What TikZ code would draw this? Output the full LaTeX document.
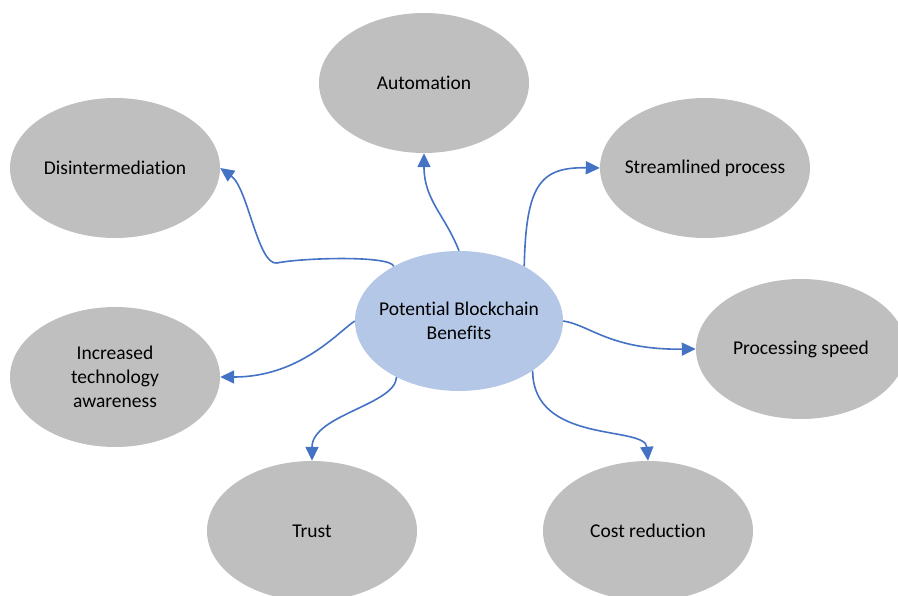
\documentclass[tikz,border=0pt]{standalone}
\usepackage{fontspec}
\setmainfont{Carlito}[Ligatures=NoCommon]
\usetikzlibrary{shapes.geometric,arrows.meta}
\definecolor{bubblegray}{RGB}{191,191,191}
\definecolor{hubblue}{RGB}{180,199,231}
\definecolor{linkblue}{RGB}{68,114,196}

\begin{document}
\begin{tikzpicture}[x=1pt,y=-1pt,
    bubble/.style={ellipse,fill=bubblegray,minimum width=210pt,minimum height=140pt,
        inner xsep=-12pt,inner ysep=0pt,align=center,font=\fontsize{19.5}{24}\selectfont},
    hub/.style={bubble,fill=hubblue,minimum width=208pt},
    link/.style={draw=linkblue,line width=1.6pt,-{Triangle[length=14pt,width=13pt]}}]
    \clip (0,0) rectangle (898,596);
    \node[hub] (hub) at (459,321) {Potential Blockchain\\Benefits};
    \foreach \name/\x/\y/\txt in {auto/424/83/Automation,
        dis/115/168/Disintermediation,
        str/705/168/Streamlined process,
        proc/801/349/Processing speed,
        inc/115/377/{Increased\\technology\\awareness},
        trust/312/531/Trust,
        cost/648/531/Cost reduction} {
        \node[bubble] (\name) at (\x,\y) {\txt};
    }
    % links from the hub
    \draw[link] (hub.140) .. controls (390,255) and (300,258) .. (277,263)
        .. controls (258,266) and (248,188) .. (dis.east);
    \draw[link] (hub.90) .. controls (445,215) and (424,200) .. (auto.south);
    \draw[link] (hub.40) .. controls (526,185) and (540,167) .. (str.west);
    \draw[link] (hub.0) .. controls (590,325) and (610,350) .. (proc.west);
    \draw[link] (hub.180) .. controls (338,332) and (300,377) .. (inc.east);
    \draw[link] (hub.222) .. controls (395,405) and (312,415) .. (trust.north);
    \draw[link] (hub.-34) .. controls (533,445) and (645,425) .. (cost.north);
\end{tikzpicture}
\end{document}
